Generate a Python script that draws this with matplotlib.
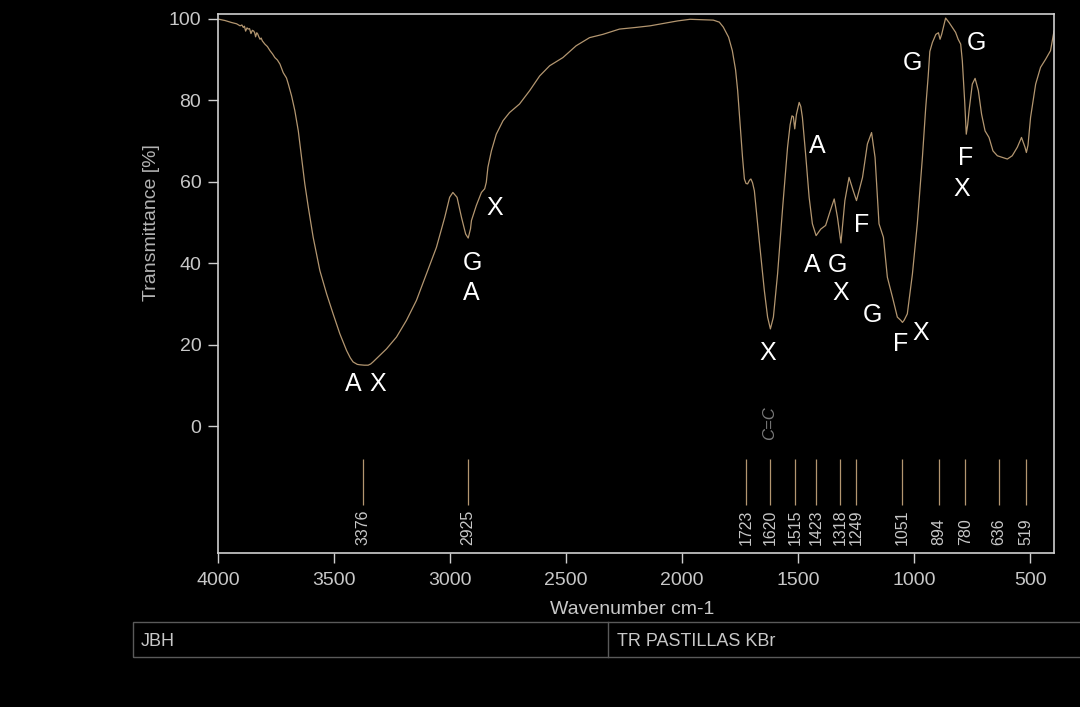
import matplotlib
matplotlib.use('Agg')
import matplotlib.pyplot as plt
from matplotlib.patches import Rectangle
from matplotlib.lines import Line2D

plt.rcParams['font.family'] = ['Liberation Sans', 'DejaVu Sans']

# IR spectrum (KBr pellet)
wavenumber = [3995, 3970, 3941, 3920, 3905, 3897, 3891, 3886, 3881, 3875, 3870, 3864,
              3858, 3852, 3846, 3842, 3838, 3833, 3829, 3824, 3819, 3814, 3809, 3798,
              3787, 3776, 3765, 3755, 3744, 3733, 3719, 3705, 3697, 3683, 3669, 3654,
              3640, 3626, 3611, 3590, 3561, 3532, 3504, 3475, 3446, 3430, 3418, 3400,
              3389, 3370, 3353, 3342, 3332, 3303, 3274, 3231, 3188, 3145, 3102, 3059,
              3023, 3002, 2988, 2970, 2951, 2933, 2922, 2912, 2908, 2887, 2865, 2851,
              2844, 2837, 2822, 2801, 2772, 2744, 2701, 2657, 2614, 2571, 2514, 2457,
              2399, 2342, 2270, 2200, 2138, 2080, 2020, 1966, 1920, 1866, 1840, 1823,
              1800, 1784, 1770, 1761, 1747, 1740, 1732, 1725, 1718, 1710, 1704, 1697,
              1689, 1668, 1646, 1632, 1620, 1607, 1589, 1567, 1546, 1535, 1527, 1521,
              1515, 1508, 1496, 1489, 1482, 1467, 1453, 1439, 1423, 1403, 1382, 1362,
              1345, 1331, 1316, 1299, 1281, 1263, 1249, 1223, 1202, 1184, 1169, 1152,
              1133, 1116, 1094, 1073, 1058, 1051, 1044, 1030, 1008, 987, 965, 951,
              940, 933, 922, 907, 896, 889, 882, 865, 850, 836, 822, 811,
              800, 793, 783, 776, 770, 764, 750, 738, 724, 710, 695, 678,
              661, 642, 621, 599, 578, 556, 538, 523, 517, 510, 499, 477,
              456, 434, 413, 398]
transmittance = [99.9, 99.6, 99.1, 98.8, 98.3, 98.5, 97.9, 98.2, 97.0, 97.8, 97.5, 97.6,
                 96.4, 97.2, 97.0, 96.6, 95.6, 96.6, 96.3, 95.6, 95.0, 95.3, 94.6, 93.8,
                 93.2, 92.2, 91.4, 90.5, 89.9, 88.9, 86.8, 85.5, 84.0, 81.1, 77.5, 72.5,
                 66.0, 59.5, 53.8, 46.4, 38.2, 32.5, 27.6, 22.7, 18.6, 16.8, 15.8, 15.2,
                 15.1, 15.0, 15.0, 15.3, 15.8, 17.4, 19.0, 21.9, 26.0, 30.9, 37.4, 43.9,
                 51.3, 56.2, 57.4, 56.2, 51.3, 47.2, 46.2, 48.5, 50.5, 54.2, 57.4, 58.3,
                 59.9, 63.6, 67.6, 71.7, 75.0, 77.0, 79.1, 82.4, 86.0, 88.5, 90.5, 93.4,
                 95.4, 96.2, 97.5, 97.9, 98.3, 98.9, 99.5, 99.9, 99.8, 99.7, 99.2, 98.0,
                 95.5, 92.2, 87.5, 82.4, 71.7, 66.0, 60.7, 59.6, 59.5, 60.4, 60.7, 59.8,
                 57.8, 45.6, 33.3, 26.8, 23.9, 26.8, 37.4, 53.8, 68.5, 74.0, 76.2, 76.0,
                 73.0, 76.5, 79.5, 78.5, 75.8, 66.0, 56.2, 49.7, 46.8, 48.4, 49.3, 52.9,
                 55.8, 51.3, 45.0, 55.4, 61.1, 57.8, 55.4, 61.1, 69.3, 72.1, 66.0, 49.7,
                 46.4, 36.6, 31.7, 26.8, 26.0, 25.5, 26.0, 27.6, 37.4, 49.7, 66.0, 78.0,
                 86.0, 92.0, 94.2, 96.2, 96.6, 95.0, 96.2, 100.2, 99.1, 97.9, 96.7, 95.0,
                 93.8, 89.7, 79.9, 71.7, 74.0, 77.5, 84.0, 85.4, 82.4, 76.6, 72.5, 70.9,
                 67.6, 66.4, 66.0, 65.6, 66.4, 68.5, 70.9, 68.5, 67.2, 69.0, 75.8, 84.0,
                 88.1, 90.1, 92.2, 97.0]

# peaks picked by the instrument
band_wn = [3376, 2925, 1723, 1620, 1515, 1423, 1318, 1249, 1051, 894, 780, 636, 519]

# hand-written assignment letters (wavenumber, transmittance)
letters = ['A', 'X', 'G', 'A', 'X', 'G', 'G', 'A', 'F', 'A', 'G', 'X', 'G', 'F', 'X', 'X', 'F', 'X']
letter_wn = [3419, 3312, 2903, 2907, 2808, 1009, 734, 1418, 1229, 1440, 1332, 1315, 1182, 1057, 971, 1633, 777, 794]
letter_t = [10.5, 10.5, 40.2, 32.8, 53.7, 89.2, 94.1, 68.9, 49.3, 39.5, 39.5, 32.6, 27.2, 20.3, 23.0, 18.1, 65.9, 58.3]

line_col = '#b39670'
axis_col = '#cfcfcf'
text_col = '#c8c8c8'

fig = plt.figure(figsize=(10.8, 7.07), dpi=100, facecolor='black')
ax = fig.add_axes([218 / 1080, 1 - 553 / 707, (1054 - 218) / 1080, (553 - 14) / 707])
ax.set_facecolor('black')

ax.plot(wavenumber, transmittance, color=line_col, lw=0.9)

# peak markers with rotated wavenumber labels
ax.vlines(band_wn, -19.4, -8.1, color=line_col, lw=0.9)
for wn in band_wn:
    ax.text(wn, -29.2, str(wn), rotation=90, ha='center', va='bottom',
            fontsize=11.5, color=text_col)

for lab, wn, t in zip(letters, letter_wn, letter_t):
    ax.text(wn, t, lab, ha='center', va='center', fontsize=18, color='white')

ax.text(1625, 0.7, 'C=C', rotation=90, ha='center', va='center',
        fontsize=12, color='#7a7a7a', style='italic')

ax.set_xlim(4000, 398)
ax.set_ylim(-31.1, 101.2)
ax.set_xticks([4000, 3500, 3000, 2500, 2000, 1500, 1000, 500])
ax.set_yticks([0, 20, 40, 60, 80, 100])

for sp in ax.spines.values():
    sp.set_color(axis_col)
    sp.set_linewidth(1.2)
ax.tick_params(axis='both', colors=axis_col, labelcolor=text_col, labelsize=14,
               direction='out', length=7, width=1)
ax.tick_params(axis='x', pad=7)
ax.tick_params(axis='y', pad=5)

ax.set_xlabel('Wavenumber cm-1', fontsize=14, color=text_col)
ax.xaxis.set_label_coords(0.495, -0.089)
ax.set_ylabel('Transmittance [%]', fontsize=14, color='#b4b4b4')
ax.yaxis.set_label_coords(-0.069, 0.613)

# footer box
fig.add_artist(Rectangle((133 / 1080, 1 - 657 / 707), 1.0, 35 / 707,
                         transform=fig.transFigure, fill=False,
                         edgecolor='#5a5a5a', lw=1))
fig.add_artist(Line2D([608 / 1080, 608 / 1080], [1 - 657 / 707, 1 - 622 / 707],
                      transform=fig.transFigure, color='#5a5a5a', lw=1))
fig.text(141 / 1080, 1 - 641 / 707, 'JBH', va='center', fontsize=13, color=text_col)
fig.text(617 / 1080, 1 - 641 / 707, 'TR PASTILLAS KBr', va='center', fontsize=13,
         color=text_col)

fig.savefig('out.png', dpi=100, facecolor='black')
